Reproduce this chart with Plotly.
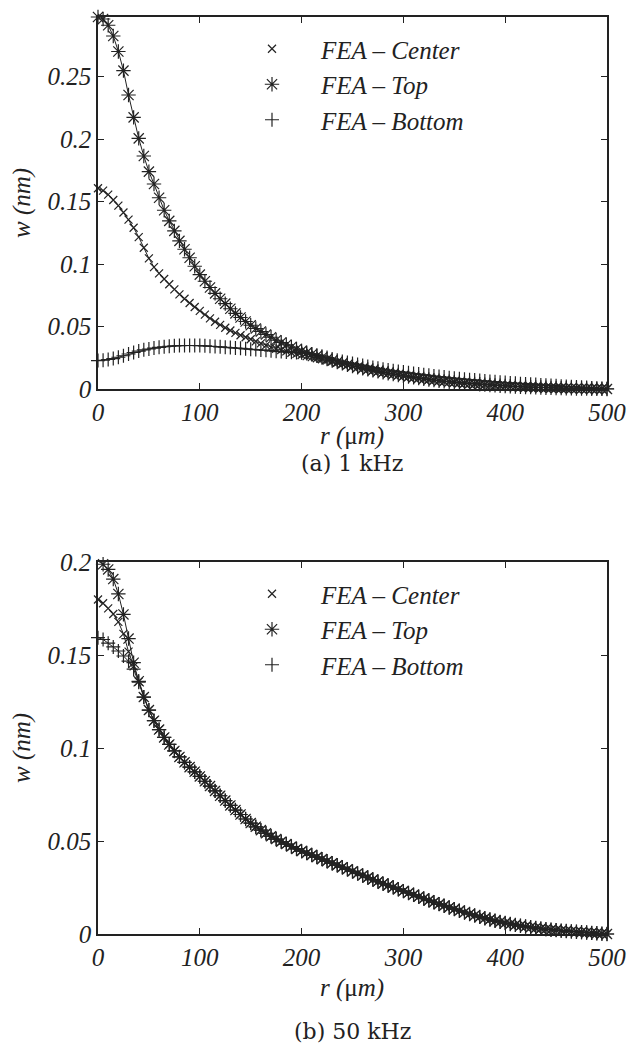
import plotly.graph_objects as go

# ---------------- data ----------------
r_um = list(range(0, 505, 5))  # radial positions, micrometres

# (a) 1 kHz
top_1k_head = [0.2976, 0.2960, 0.2910, 0.2824, 0.2700, 0.2547, 0.2352, 0.2173, 0.2005, 0.1864,
               0.1739, 0.1640, 0.1530, 0.1430, 0.1345, 0.1265, 0.1185, 0.1118, 0.1050, 0.0982,
               0.0915, 0.0862, 0.0812, 0.0765, 0.0722, 0.0683, 0.0642, 0.0605, 0.0572, 0.0540,
               0.0510, 0.0484, 0.0460, 0.0436, 0.0414, 0.0390, 0.0372, 0.0354, 0.0336, 0.0320,
               0.0305, 0.0291, 0.0278, 0.0265, 0.0252, 0.0240, 0.0228, 0.0216, 0.0205, 0.0194]
center_1k_head = [0.1606, 0.1587, 0.1555, 0.1512, 0.1467, 0.1412, 0.1355, 0.1290, 0.1215, 0.1130,
                  0.1045, 0.0975, 0.0925, 0.0880, 0.0838, 0.0797, 0.0757, 0.0722, 0.0688, 0.0656,
                  0.0625, 0.0595, 0.0565, 0.0538, 0.0513, 0.0490, 0.0468, 0.0449, 0.0430, 0.0414,
                  0.0398, 0.0381, 0.0365, 0.0349, 0.0333, 0.0322, 0.0312, 0.0301, 0.0290, 0.0281,
                  0.0272, 0.0263, 0.0255, 0.0246, 0.0238, 0.0229, 0.0220, 0.0210, 0.0200, 0.0191]
tail_1k = [0.0183, 0.0174, 0.0165, 0.0157, 0.0149, 0.0141, 0.0133, 0.0126, 0.0119, 0.0112,
           0.0105, 0.0099, 0.0093, 0.0087, 0.0081, 0.0076, 0.0071, 0.0066, 0.0061, 0.0058,
           0.0055, 0.0051, 0.0047, 0.0044, 0.0041, 0.0038, 0.0035, 0.0032, 0.0029, 0.0026,
           0.0024, 0.0022, 0.0020, 0.0018, 0.0016, 0.0015, 0.0013, 0.0012, 0.0010, 0.0009,
           0.0008, 0.0007, 0.0006, 0.0005, 0.0004, 0.0003, 0.0003, 0.0002, 0.0001, 0.0001,
           0.0000]
bottom_1k = [0.0227, 0.0230, 0.0236, 0.0243, 0.0254, 0.0266, 0.0280, 0.0292, 0.0303, 0.0313,
             0.0320, 0.0327, 0.0333, 0.0338, 0.0342, 0.0345, 0.0347, 0.0348, 0.0348, 0.0348,
             0.0347, 0.0345, 0.0342, 0.0340, 0.0337, 0.0334, 0.0331, 0.0328, 0.0325, 0.0321,
             0.0318, 0.0315, 0.0312, 0.0309, 0.0305, 0.0302, 0.0299, 0.0296, 0.0293, 0.0292,
             0.0290, 0.0284, 0.0277, 0.0270, 0.0262, 0.0251, 0.0240, 0.0230, 0.0220, 0.0211,
             0.0203, 0.0195, 0.0187, 0.0179, 0.0172, 0.0165, 0.0158, 0.0152, 0.0146, 0.0140,
             0.0135, 0.0129, 0.0124, 0.0119, 0.0114, 0.0109, 0.0104, 0.0099, 0.0095, 0.0090,
             0.0086, 0.0082, 0.0078, 0.0074, 0.0071, 0.0067, 0.0064, 0.0060, 0.0057, 0.0054,
             0.0051, 0.0048, 0.0045, 0.0042, 0.0040, 0.0037, 0.0035, 0.0032, 0.0030, 0.0027,
             0.0025, 0.0022, 0.0020, 0.0018, 0.0016, 0.0013, 0.0011, 0.0008, 0.0006, 0.0004,
             0.0002]
top_1k = top_1k_head + tail_1k
center_1k = center_1k_head + tail_1k

# (b) 50 kHz
top_50k_head = [0.2007, 0.1990, 0.1962, 0.1910, 0.1830, 0.1720, 0.1590, 0.1460, 0.1360, 0.1275, 0.1205]
center_50k_head = [0.1800, 0.1780, 0.1752, 0.1722, 0.1680, 0.1615, 0.1520, 0.1440, 0.1358, 0.1275, 0.1205]
bottom_50k_head = [0.1595, 0.1585, 0.1565, 0.1545, 0.1523, 0.1496, 0.1468, 0.1425, 0.1355, 0.1275, 0.1205]
tail_50k = [0.1148, 0.1100, 0.1058, 0.1020, 0.0985, 0.0953, 0.0924, 0.0898, 0.0873, 0.0848,
            0.0822, 0.0796, 0.0770, 0.0744, 0.0718, 0.0692, 0.0667, 0.0643, 0.0619, 0.0597,
            0.0577, 0.0559, 0.0542, 0.0526, 0.0511, 0.0497, 0.0484, 0.0471, 0.0458, 0.0446,
            0.0436, 0.0425, 0.0414, 0.0403, 0.0392, 0.0381, 0.0370, 0.0359, 0.0348, 0.0337,
            0.0326, 0.0315, 0.0304, 0.0293, 0.0282, 0.0271, 0.0261, 0.0251, 0.0241, 0.0231,
            0.0221, 0.0211, 0.0201, 0.0191, 0.0181, 0.0171, 0.0161, 0.0152, 0.0143, 0.0134,
            0.0125, 0.0116, 0.0108, 0.0100, 0.0092, 0.0085, 0.0078, 0.0071, 0.0065, 0.0059,
            0.0054, 0.0049, 0.0044, 0.0040, 0.0036, 0.0032, 0.0029, 0.0026, 0.0023, 0.0021,
            0.0018, 0.0016, 0.0014, 0.0012, 0.0010, 0.0008, 0.0006, 0.0004, 0.0002, 0.0000]
top_50k = top_50k_head + tail_50k
center_50k = center_50k_head + tail_50k
bottom_50k = bottom_50k_head + tail_50k

series_names = ["FEA – Center", "FEA – Top", "FEA – Bottom"]
x_ticks = [0, 100, 200, 300, 400, 500]
y_ticks_1k = [0, 0.05, 0.1, 0.15, 0.2, 0.25]
y_ticks_50k = [0, 0.05, 0.1, 0.15, 0.2]
captions = ["(a) 1 kHz", "(b) 50 kHz"]

# ---------------- layout helpers ----------------
W, H = 629, 1049
def fx(px):
    return px / W
def fy(py):
    return 1 - py / H

INK = "#222222"
SERIF = "Liberation Serif, Times New Roman, serif"
symbols = [("x-thin", 8), ("asterisk", 12), ("cross-thin", 10)]

fig = go.Figure()

panels = [
    ("x", "y", "legend", [center_1k, top_1k, bottom_1k]),
    ("x2", "y2", "legend2", [center_50k, top_50k, bottom_50k]),
]
for xa, ya, lg, ys in panels:
    for yv in ys:
        fig.add_trace(go.Scatter(x=r_um, y=yv, mode="lines", xaxis=xa, yaxis=ya,
                                 line=dict(color=INK, width=1), showlegend=False,
                                 hoverinfo="skip", cliponaxis=False))
    for name, (sym, size), yv in zip(series_names, symbols, ys):
        fig.add_trace(go.Scatter(x=r_um, y=yv, mode="markers", xaxis=xa, yaxis=ya,
                                 name=name, legend=lg, cliponaxis=False,
                                 marker=dict(symbol=sym, size=size, color=INK,
                                             line=dict(color=INK, width=1.2))))

tickfont = dict(family=SERIF, size=25, color=INK, style="italic")
axis_common = dict(showline=True, linecolor=INK, linewidth=1.5, mirror="ticks",
                   ticks="inside", ticklen=6, tickwidth=1.2, tickcolor=INK,
                   showgrid=False, zeroline=False, tickfont=tickfont, fixedrange=True,
                   automargin=False)

xdom = [fx(98), fx(607)]
legend_font = dict(family=SERIF, size=25, color=INK, style="italic")
fig.update_layout(
    width=W, height=H, margin=dict(l=0, r=0, t=0, b=0, autoexpand=False),
    paper_bgcolor="white", plot_bgcolor="white",
    xaxis=dict(domain=xdom, range=[0, 500], tickvals=x_ticks, anchor="y", **axis_common),
    yaxis=dict(domain=[fy(389), fy(17)], range=[0, 0.2976], tickvals=y_ticks_1k,
               anchor="x", **axis_common),
    xaxis2=dict(domain=xdom, range=[0, 500], tickvals=x_ticks, anchor="y2", **axis_common),
    yaxis2=dict(domain=[fy(934), fy(562)], range=[0, 0.2002], tickvals=y_ticks_50k,
                anchor="x2", **axis_common),
    legend=dict(x=fx(223), y=fy(26), xanchor="left", yanchor="top",
                bgcolor="rgba(0,0,0,0)", borderwidth=0, itemwidth=88, font=legend_font),
    legend2=dict(x=fx(223), y=fy(571), xanchor="left", yanchor="top",
                 bgcolor="rgba(0,0,0,0)", borderwidth=0, itemwidth=88, font=legend_font),
    showlegend=True,
)

ann_font = dict(family=SERIF, size=25, color=INK, style="italic")
annotations = []
for yc in (203, 748):
    annotations.append(dict(text="w (nm)", x=fx(22), y=fy(yc), xref="paper", yref="paper",
                            textangle=-90, showarrow=False, font=ann_font,
                            xanchor="center", yanchor="middle"))
for yc in (436, 988):
    annotations.append(dict(text="r (<span style='font-style:normal'>μ</span>m)",
                            x=fx(352), y=fy(yc), xref="paper", yref="paper",
                            showarrow=False, font=ann_font, xanchor="center", yanchor="middle"))
for cap, yc in zip(captions, (463, 1031)):
    annotations.append(dict(text=cap, x=fx(352), y=fy(yc), xref="paper", yref="paper",
                            showarrow=False, xanchor="center", yanchor="middle",
                            font=dict(family="DejaVu Serif", size=22, color=INK)))
fig.update_layout(annotations=annotations)

fig.write_html("out.html")
